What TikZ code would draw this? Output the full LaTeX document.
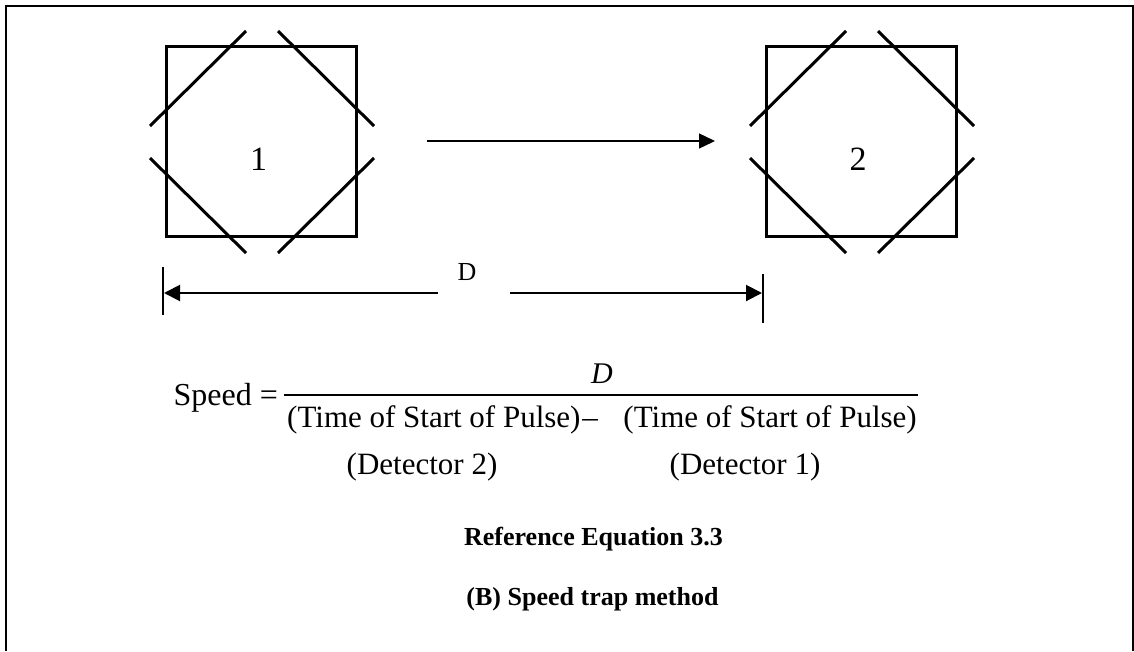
\documentclass[tikz,border=0pt]{standalone}
\usepackage{fontspec}
\setmainfont{Liberation Serif}
\usetikzlibrary{arrows.meta}
\begin{document}
\begin{tikzpicture}[x=1pt,y=-1pt,
  detbox/.style={draw,line width=3.6pt,minimum size=190pt,inner sep=0pt},
  diag/.style={line width=3pt},
  frameline/.style={line width=2pt},
  flow/.style={line width=1.3pt,-{Triangle[length=16pt,width=15pt]}},
  dimline/.style={line width=2pt},
  bar/.style={line width=1.6pt},
  txt/.style={inner sep=0pt,anchor=base}]
\useasboundingbox (0,0) rectangle (1134,651);

% open frame
\coordinate (fbl) at (6,651);
\coordinate (ftl) at (6,6);
\coordinate (ftr) at (1133,6);
\coordinate (fbr) at (1133,651);
\draw[frameline] (fbl) -- (ftl) -- (ftr) -- (fbr);

% detectors
\node[detbox] (b1) at (261.5,141.5) {};
\node[detbox] (b2) at (861.5,141.5) {};
\foreach \b in {b1,b2}{
  \draw[diag] ([shift={(-111.5,-15.5)}]\b.center) -- ++(96,-95);
  \draw[diag] ([shift={(16.5,-110.5)}]\b.center) -- ++(96,95);
  \draw[diag] ([shift={(-111.5,16.5)}]\b.center) -- ++(96,95);
  \draw[diag] ([shift={(16.5,111.5)}]\b.center) -- ++(96,-95);
}
\node[txt,font=\fontsize{34}{40}\selectfont] (n1) at (258.5,170) {1};
\node[txt,font=\fontsize{34}{40}\selectfont] (n2) at (858,170) {2};

% motion arrow
\coordinate (a1) at (427,141);
\coordinate (a2) at (715,141);
\draw[flow] (a1) -- (a2);

% dimension D
\coordinate (dbl1) at (163,267);
\coordinate (dbl2) at (163,315);
\coordinate (dbr1) at (763,274);
\coordinate (dbr2) at (763,323);
\draw[bar] (dbl1) -- (dbl2);
\draw[bar] (dbr1) -- (dbr2);
\coordinate (dl) at (164,293);
\coordinate (dgl) at (438,293);
\coordinate (dgr) at (510,293);
\coordinate (dr) at (762,293);
\draw[dimline,{Triangle[length=16pt,width=16pt]}-] (dl) -- (dgl);
\draw[dimline,-{Triangle[length=16pt,width=16pt]}] (dgr) -- (dr);
\node[txt,font=\fontsize{26}{30}\selectfont] (dlab) at (467,280) {D};

% equation
\node[txt,anchor=base east,font=\fontsize{32}{38}\selectfont] (speed) at (278,405) {Speed =};
\coordinate (fl) at (284,395);
\coordinate (fr) at (918,395);
\draw[line width=1.3pt] (fl) -- (fr);
\node[txt,font=\fontsize{30}{36}\selectfont\itshape] (num) at (602,383) {D};
\node[txt,anchor=base west,font=\fontsize{31}{37}\selectfont] (t1) at (287,427) {(Time of Start of Pulse)};
\node[txt,font=\fontsize{31}{37}\selectfont] (minus) at (590,427) {–};
\node[txt,anchor=base east,font=\fontsize{31}{37}\selectfont] (t2) at (917,427) {(Time of Start of Pulse)};
\node[txt,font=\fontsize{31}{37}\selectfont] (det2) at (422,474) {(Detector 2)};
\node[txt,font=\fontsize{31}{37}\selectfont] (det1) at (745,474) {(Detector 1)};

% captions
\node[txt,font=\fontsize{26}{30}\selectfont\bfseries] (cap1) at (593.5,545) {Reference Equation 3.3};
\node[txt,font=\fontsize{26}{30}\selectfont\bfseries] (cap2) at (592.5,605) {(B) Speed trap method};
\end{tikzpicture}
\end{document}
